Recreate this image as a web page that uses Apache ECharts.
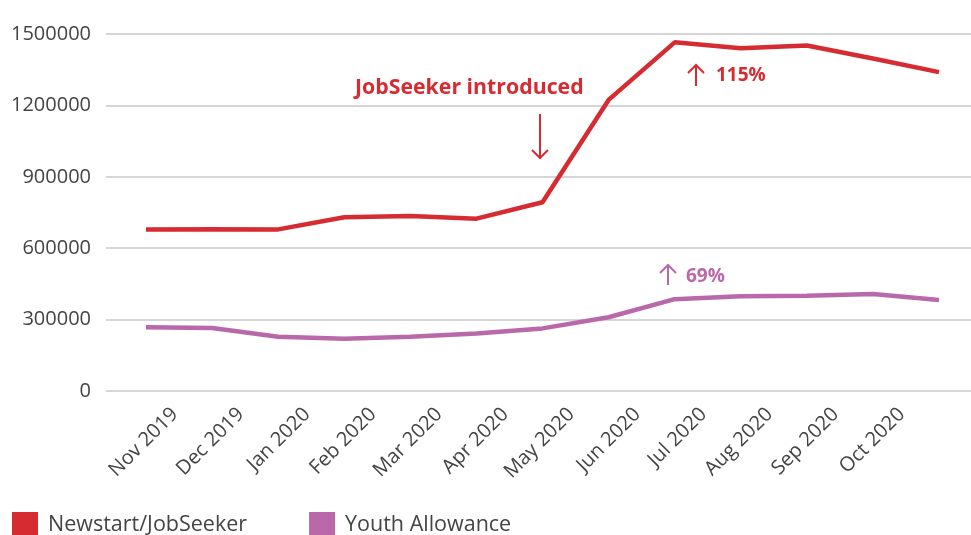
<!DOCTYPE html>
<html>
<head>
<meta charset="utf-8">
<script src="https://cdn.jsdelivr.net/npm/echarts@6/dist/echarts.min.js"></script>
<style>
html,body{margin:0;padding:0;background:#fff;}
#chart{width:971px;height:535px;}
</style>
</head>
<body>
<div id="chart"></div>
<script>
// Data points (13 months, Nov 2019 .. Nov 2020)
var months = ['Nov 2019','Dec 2019','Jan 2020','Feb 2020','Mar 2020','Apr 2020','May 2020','Jun 2020','Jul 2020','Aug 2020','Sep 2020','Oct 2020','Nov 2020'];
var newstart = [679000, 680000, 679000, 730000, 735000, 724000, 793000, 1223000, 1465000, 1440000, 1452000, 1397000, 1340000];
var youth = [268000, 265000, 228000, 220000, 228000, 242000, 263000, 310000, 386000, 398000, 400000, 408000, 382000];
// Tick labels shown on the axis
var tickLabels = ['Nov 2019','Dec 2019','Jan 2020','Feb 2020','Mar 2020','Apr 2020','May 2020','Jun 2020','Jul 2020','Aug 2020','Sep 2020','Oct 2020'];
var seriesNames = ['Newstart/JobSeeker', 'Youth Allowance'];
var yTicks = {min: 0, max: 1500000, interval: 300000};

var RED = '#d72b32';
var PURPLE = '#b968aa';
var FONT = 'Open Sans';

var chart = echarts.init(document.getElementById('chart'));
chart.setOption({
  animation: false,
  textStyle: {fontFamily: FONT},
  grid: [
    {left: 106, right: 0, top: 34, bottom: 144},
    {left: 146, right: 32, top: 34, bottom: 144}
  ],
  legend: {
    data: seriesNames,
    icon: 'rect',
    itemWidth: 26,
    itemHeight: 26,
    left: 7,
    top: 507,
    itemGap: 62,
    textStyle: {fontSize: 21.5, color: '#444', fontFamily: FONT, padding: [0, 0, 0, 5]}
  },
  xAxis: [
    {gridIndex: 0, type: 'value', show: false, min: 0, max: 1},
    {gridIndex: 1, type: 'category', data: months, boundaryGap: false, show: false},
    {gridIndex: 1, type: 'category', data: tickLabels, boundaryGap: true, position: 'bottom',
     axisLine: {show: false}, axisTick: {show: false},
     axisLabel: {rotate: 45, fontSize: 20, color: '#444', margin: 16, padding: [0, 6, 0, 0], interval: 0, fontFamily: FONT}}
  ],
  yAxis: [
    {gridIndex: 0, type: 'value', min: yTicks.min, max: yTicks.max, interval: yTicks.interval,
     axisLine: {show: false}, axisTick: {show: false},
     splitLine: {lineStyle: {color: '#c8c8c8', width: 1.5}},
     axisLabel: {fontSize: 20, color: '#444', margin: 15, fontFamily: FONT,
                 formatter: function (v) { return String(v); }}},
    {gridIndex: 1, type: 'value', min: yTicks.min, max: yTicks.max, show: false}
  ],
  series: [
    {name: seriesNames[0], type: 'line', xAxisIndex: 1, yAxisIndex: 1, data: newstart,
     symbol: 'none', lineStyle: {color: RED, width: 4.5}, itemStyle: {color: RED}},
    {name: seriesNames[1], type: 'line', xAxisIndex: 1, yAxisIndex: 1, data: youth,
     symbol: 'none', lineStyle: {color: PURPLE, width: 4.5}, itemStyle: {color: PURPLE}}
  ],
  graphic: [
    {type: 'text', left: 355, top: 77, style: {text: 'JobSeeker introduced', fill: RED, font: 'bold 21.3px "' + FONT + '"'}},
    {type: 'polyline', shape: {points: [[540, 114], [540, 158]]}, style: {stroke: RED, lineWidth: 2, fill: null}},
    {type: 'polyline', shape: {points: [[532, 150], [540, 158], [548, 150]]}, style: {stroke: RED, lineWidth: 2, fill: null}},
    {type: 'polyline', shape: {points: [[696, 86], [696, 65]]}, style: {stroke: RED, lineWidth: 2, fill: null}},
    {type: 'polyline', shape: {points: [[688, 73], [696, 65], [704, 73]]}, style: {stroke: RED, lineWidth: 2, fill: null}},
    {type: 'text', left: 716, top: 66, style: {text: '115%', fill: RED, font: 'bold 19px "' + FONT + '"'}},
    {type: 'polyline', shape: {points: [[668, 285], [668, 265]]}, style: {stroke: PURPLE, lineWidth: 2, fill: null}},
    {type: 'polyline', shape: {points: [[660, 273], [668, 265], [676, 273]]}, style: {stroke: PURPLE, lineWidth: 2, fill: null}},
    {type: 'text', left: 686, top: 267, style: {text: '69%', fill: PURPLE, font: 'bold 19px "' + FONT + '"'}}
  ]
});
</script>
</body>
</html>
